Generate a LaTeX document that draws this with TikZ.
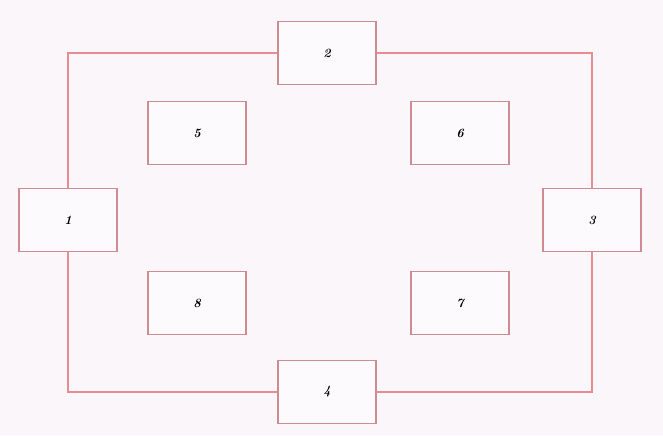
\documentclass[tikz,border=0pt]{standalone}
\usepackage{tikz}

\definecolor{bgpink}{RGB}{250,246,250}
\definecolor{boxfill}{RGB}{252,250,252}
\definecolor{edgepink}{RGB}{205,140,145}
\definecolor{wirepink}{RGB}{232,140,145}

\tikzset{
  box/.style={draw=edgepink, fill=boxfill, line width=0.8pt,
    minimum width=2.45cm, minimum height=1.58cm,
    font=\small\bfseries\itshape},
  wire/.style={draw=wirepink, line width=0.8pt}
}

\begin{document}
\begin{tikzpicture}[x=0.025cm, y=-0.025cm]
  % Background
  \fill[bgpink] (0,0) rectangle (663,435);

  % Outer boxes
  \node[box] (n1) at (68,220) {1};
  \node[box] (n2) at (327,53) {2};
  \node[box] (n3) at (592,220) {3};
  \node[box] (n4) at (327,392) {4};

  % Inner boxes
  \node[box] (n5) at (197,133) {5};
  \node[box] (n6) at (460,133) {6};
  \node[box] (n7) at (460,303) {7};
  \node[box] (n8) at (197,303) {8};

  % Frame
  \draw[wire] (n1) |- (n2);
  \draw[wire] (n2) -| (n3);
  \draw[wire] (n3) |- (n4);
  \draw[wire] (n4) -| (n1);
\end{tikzpicture}
\end{document}
